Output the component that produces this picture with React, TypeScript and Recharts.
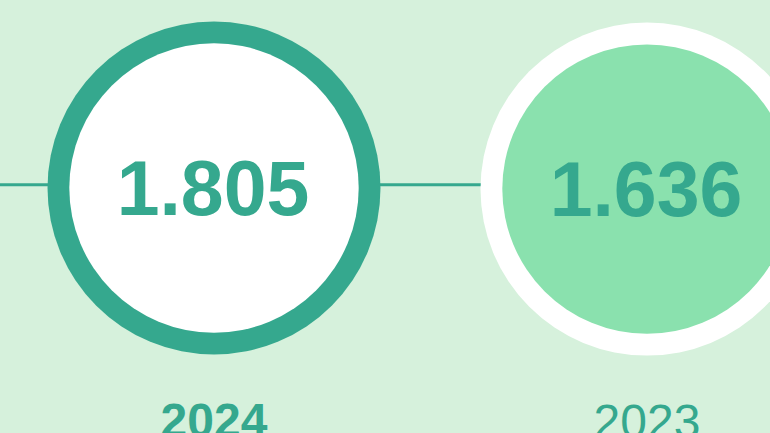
import React from 'react'
import { ComposedChart, Line, XAxis, YAxis, ReferenceLine } from 'recharts'

const years = ['2024', '2023']
const values = [1.805, 1.636]

const BG = '#d6f1dc'
const TEAL = '#35a88e'
const MINT = '#8ae1ae'
const FONT = '"Liberation Sans", Arial, sans-serif'

const data = years.map((year, i) => ({ year, value: values[i] }))

function Badge(props: any): JSX.Element {
  const { cx, cy, index, payload } = props
  const current = index === 0
  return (
    <g key={`badge-${index}`}>
      <circle cx={cx} cy={cy} r={166.5} fill={current ? TEAL : '#ffffff'} />
      <circle cx={cx} cy={cy} r={144.7} fill={current ? '#ffffff' : MINT} />
      <text
        x={cx - 1}
        y={cy + 27}
        textAnchor="middle"
        fontFamily={FONT}
        fontWeight="bold"
        fontSize={77}
        fill={TEAL}
      >
        {payload.value.toFixed(3)}
      </text>
      <text
        x={cx}
        y={cy + 249}
        textAnchor="middle"
        fontFamily={FONT}
        fontWeight={current ? 'bold' : 'normal'}
        fontSize={48}
        fill={TEAL}
      >
        {payload.year}
      </text>
    </g>
  )
}

export default function App(): JSX.Element {
  return (
    <div style={{ position: 'absolute', left: 0, top: 0, width: 770, height: 433, background: BG, overflow: 'hidden' }}>
      <ComposedChart width={770} height={433} data={data} margin={{ top: 0, right: 0, bottom: 33, left: 0 }}>
        <XAxis dataKey="year" hide padding={{ left: 214, right: 123 }} />
        <YAxis hide domain={[-30, 30]} />
        <ReferenceLine y={2.3} stroke={TEAL} strokeWidth={3} />
        <Line dataKey="value" stroke="none" dot={Badge} activeDot={false} isAnimationActive={false} />
      </ComposedChart>
    </div>
  )
}
